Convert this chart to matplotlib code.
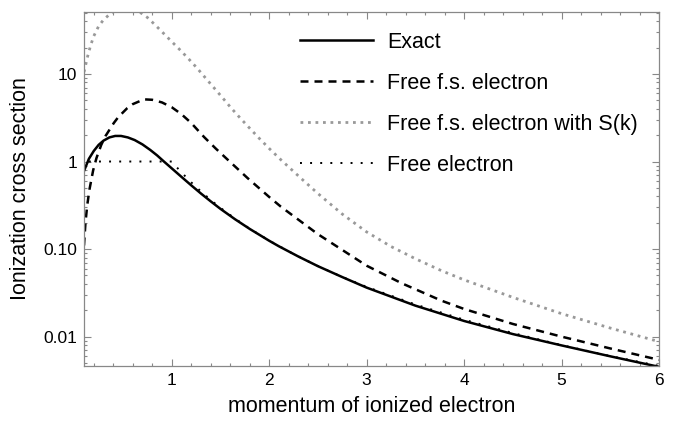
import numpy as np
import matplotlib
matplotlib.use("Agg")
import matplotlib.pyplot as plt
from matplotlib.ticker import FixedLocator, LogLocator, MultipleLocator, NullFormatter


# values
k_exact = [0.1, 0.15, 0.2, 0.25, 0.3, 0.36, 0.42, 0.48, 0.55, 0.62, 0.7, 0.78,
           0.85, 0.92, 1.0, 1.1, 1.2, 1.3, 1.4, 1.5, 1.65, 1.8, 2.0, 2.1, 2.3,
           2.5, 2.75, 3.0, 3.5, 4.0, 4.5, 5.0, 5.5, 6.0]
exact = [0.78, 1.072, 1.318, 1.549, 1.73, 1.884, 1.959, 1.959, 1.884, 1.758,
         1.567, 1.355, 1.175, 1.0, 0.836, 0.668, 0.535, 0.431, 0.351, 0.288,
         0.219, 0.170, 0.1245, 0.1076, 0.0822, 0.0638, 0.0479, 0.0363, 0.0226,
         0.0151, 0.0107, 0.00794, 0.00596, 0.00452]

k_fs = [0.1, 0.115, 0.133, 0.156, 0.194, 0.228, 0.277, 0.32, 0.406, 0.45, 0.544,
        0.6, 0.715, 0.8, 0.9, 1.0, 1.1, 1.2, 1.332, 1.45, 1.556, 1.779, 2.0,
        2.12, 2.5, 3.0, 3.36, 3.77, 4.0, 4.5, 5.0, 5.5, 6.0]
free_fs = [0.110, 0.200, 0.316, 0.479, 0.794, 1.096, 1.549, 1.95, 2.754, 3.199,
           4.074, 4.519, 5.129, 5.07, 4.73, 4.17, 3.47, 2.754, 1.905, 1.413,
           1.096, 0.646, 0.394, 0.305, 0.148, 0.0646, 0.0407, 0.0257, 0.0207,
           0.01396, 0.0100, 0.00733, 0.00543]

k_sk = [0.1, 0.138, 0.167, 0.2, 0.25, 0.3, 0.37, 0.44, 0.52, 0.6, 0.68, 0.75,
        0.83, 0.92, 1.0, 1.09, 1.18, 1.265, 1.35, 1.435, 1.52, 1.607, 1.7, 1.8,
        1.9, 2.0, 2.12, 2.33, 2.5, 2.75, 3.0, 3.25, 3.5, 3.77, 4.0, 4.5, 5.0,
        5.5, 6.0]
free_sk = [10.5, 16.0, 21.0, 27.0, 35.1, 41.5, 48.8, 54.0, 57.0, 55.6, 50.1,
           44.2, 36.3, 28.8, 23.4, 18.6, 14.6, 11.5, 8.91, 6.92, 5.37, 4.12,
           3.16, 2.40, 1.83, 1.41, 1.047, 0.638, 0.431, 0.251, 0.157, 0.107,
           0.0776, 0.0565, 0.0445, 0.0281, 0.0183, 0.01253, 0.00877]

k_free = [0.15, 1.0, 1.05, 1.1, 1.2, 1.3, 1.4, 1.5, 1.65, 1.8, 2.0, 2.25, 2.5,
          2.75, 3.0, 3.5, 4.0, 4.5, 5.0, 5.5, 6.0]
free = [1.0, 1.0, 0.864, 0.751, 0.579, 0.455, 0.364, 0.296, 0.223, 0.171,
        0.125, 0.0878, 0.064, 0.048, 0.037, 0.0233, 0.0156, 0.011, 0.008,
        0.006, 0.00463]

ytick_vals = [0.01, 0.1, 1, 10]
ytick_labels = ["0.01", "0.10", "1", "10"]
xtick_vals = [1, 2, 3, 4, 5, 6]

plt.rcParams["font.family"] = ["Liberation Sans", "DejaVu Sans"]

fig = plt.figure(figsize=(6.73, 4.22), dpi=100)
ax = fig.add_axes([84 / 673, 1 - 366 / 422, 575 / 673, 354 / 422])

ax.plot(k_exact, exact, color="black", lw=1.8, label="Exact")
ax.plot(k_fs, free_fs, color="black", lw=1.8, dashes=(3.2, 2.4),
        label="Free f.s. electron")
ax.plot(k_sk, free_sk, color="#999999", lw=2.0, dashes=(1, 1.7),
        label="Free f.s. electron with S(k)")
ax.plot(k_free, free, color="black", lw=1.4, dashes=(1, 4.2),
        label="Free electron")

ax.set_yscale("log")
ax.set_xlim(0.1, 6)
ax.set_ylim(0.00462, 51)

ax.yaxis.set_major_locator(FixedLocator(ytick_vals))
ax.set_yticklabels(ytick_labels)
ax.yaxis.set_minor_locator(LogLocator(base=10, subs=np.arange(2, 10)))
ax.yaxis.set_minor_formatter(NullFormatter())
ax.xaxis.set_major_locator(FixedLocator(xtick_vals))
ax.xaxis.set_minor_locator(MultipleLocator(0.2))

for s in ax.spines.values():
    s.set_color("#888888")
    s.set_linewidth(0.9)
ax.tick_params(which="both", direction="in", top=True, right=True,
               color="#888888", width=0.8, labelsize=12.5, pad=5)
ax.tick_params(which="major", length=4.8)
ax.tick_params(which="minor", length=2.5)

ax.set_xlabel("momentum of ionized electron", fontsize=15.5, labelpad=6)
ax.set_ylabel("Ionization cross section", fontsize=15.5, labelpad=9)

ax.legend(loc="upper left", bbox_to_anchor=(0.3757, 0.944), frameon=False,
          fontsize=15.5, handlelength=3.4, handletextpad=0.65,
          labelspacing=0.93, borderpad=0, borderaxespad=0)

fig.savefig("out.png", dpi=100)
